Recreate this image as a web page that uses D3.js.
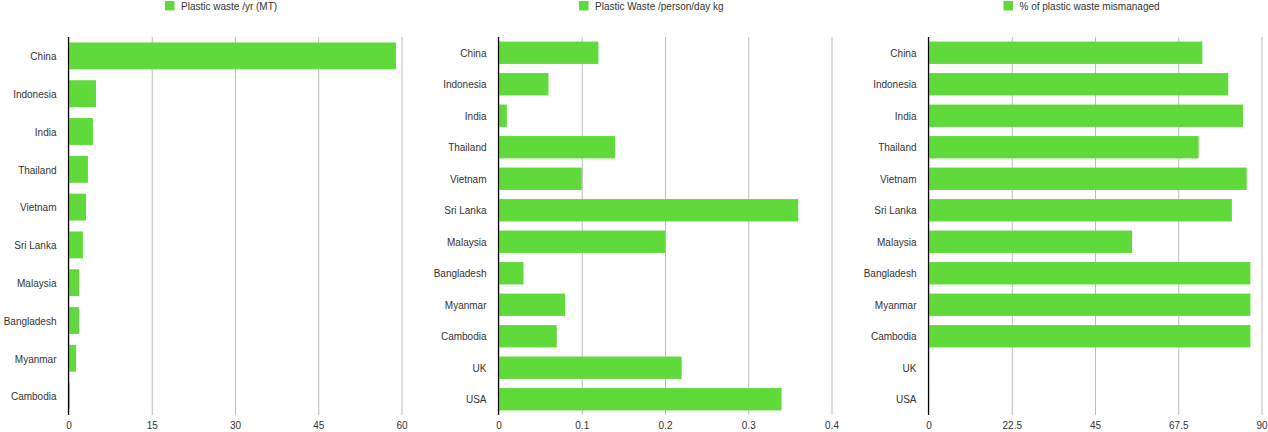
<!doctype html>
<html>
<head>
<meta charset="utf-8">
<title>Plastic waste</title>
<script src="https://cdn.jsdelivr.net/npm/d3@7"></script>
<style>
  body { margin: 0; background: #fff; }
  svg text { font-family: "Liberation Sans", Arial, Helvetica, sans-serif; fill: #333; }
</style>
</head>
<body>
<div id="chart-area"></div>
<script>
  var countries = ['China', 'Indonesia', 'India', 'Thailand', 'Vietnam', 'Sri Lanka',
    'Malaysia', 'Bangladesh', 'Myanmar', 'Cambodia'];
  var countriesAll = countries.concat(['UK', 'USA']);

  var wastePerYear = [59, 4.95, 4.4, 3.5, 3.15, 2.6, 1.9, 1.9, 1.35, 0.25];
  var wastePerPersonDay = [0.12, 0.06, 0.01, 0.14, 0.1, 0.36, 0.2, 0.03, 0.08, 0.07, 0.22, 0.34];
  var pctMismanaged = [74, 81, 85, 73, 86, 82, 55, 87, 87, 87, null, null];

  var ticks1 = [0, 15, 30, 45, 60];
  var ticks2 = [0, 0.1, 0.2, 0.3, 0.4];
  var ticks3 = [0, 22.5, 45, 67.5, 90];

  var green = '#60d93a';
  var plotTop = 37, plotBottom = 415;

  var svg = d3.select('#chart-area')
      .append('svg')
      .attr('width', 1268)
      .attr('height', 432);

  function panel(opts) {
    var g = svg.append('g');

    var x = d3.scaleLinear()
        .domain([0, opts.ticks[opts.ticks.length - 1]])
        .range([opts.left, opts.right]);
    var y = d3.scaleBand()
        .domain(opts.cats)
        .range([plotTop, plotBottom])
        .paddingInner(0.29)
        .paddingOuter(0.145);

    // grid + tick labels
    var xAxis = d3.axisBottom(x)
        .tickValues(opts.ticks)
        .tickSize(-(plotBottom - plotTop))
        .tickPadding(7)
        .tickFormat(function(d) { return String(d); });
    var xg = g.append('g')
        .attr('transform', 'translate(0,' + plotBottom + ')')
        .call(xAxis);
    xg.select('.domain').remove();
    xg.selectAll('line').attr('stroke', '#bcbcbc').attr('stroke-width', 1);
    xg.selectAll('text').attr('font-size', '10px').attr('fill', '#333')
        .style('font-family', '"Liberation Sans", Arial, sans-serif');

    // category labels
    var yAxis = d3.axisLeft(y).tickSize(0).tickPadding(12);
    var yg = g.append('g')
        .attr('transform', 'translate(' + opts.left + ',1)')
        .call(yAxis);
    yg.select('.domain').remove();
    yg.selectAll('text').attr('font-size', '10px').attr('fill', '#333')
        .style('font-family', '"Liberation Sans", Arial, sans-serif');

    // bars
    var data = opts.cats.map(function(c, i) { return {cat: c, value: opts.values[i]}; })
        .filter(function(d) { return d.value != null; });
    g.selectAll('rect.bar')
        .data(data)
        .enter()
        .append('rect')
        .attr('class', 'bar')
        .attr('x', x(0))
        .attr('y', function(d) { return y(d.cat); })
        .attr('width', function(d) { return x(d.value) - x(0); })
        .attr('height', y.bandwidth())
        .attr('fill', green);

    // zero axis line
    g.append('line')
        .attr('x1', x(0)).attr('x2', x(0))
        .attr('y1', plotTop).attr('y2', plotBottom)
        .attr('stroke', '#000')
        .attr('stroke-width', 1.2);

    // legend
    g.append('rect')
        .attr('x', opts.legendX)
        .attr('y', 1)
        .attr('width', 9.5)
        .attr('height', 9.5)
        .attr('fill', green);
    g.append('text')
        .attr('x', opts.legendX + 16)
        .attr('y', 6)
        .attr('dy', '0.35em')
        .attr('font-size', '10px')
        .text(opts.label);
  }

  panel({left: 68.5, right: 401.5, cats: countries, values: wastePerYear,
    ticks: ticks1, legendX: 165, label: 'Plastic waste /yr (MT)'});
  panel({left: 498.5, right: 831.5, cats: countriesAll, values: wastePerPersonDay,
    ticks: ticks2, legendX: 579, label: 'Plastic Waste /person/day kg'});
  panel({left: 928.5, right: 1261.5, cats: countriesAll, values: pctMismanaged,
    ticks: ticks3, legendX: 1003.5, label: '% of plastic waste mismanaged'});
</script>
</body>
</html>
